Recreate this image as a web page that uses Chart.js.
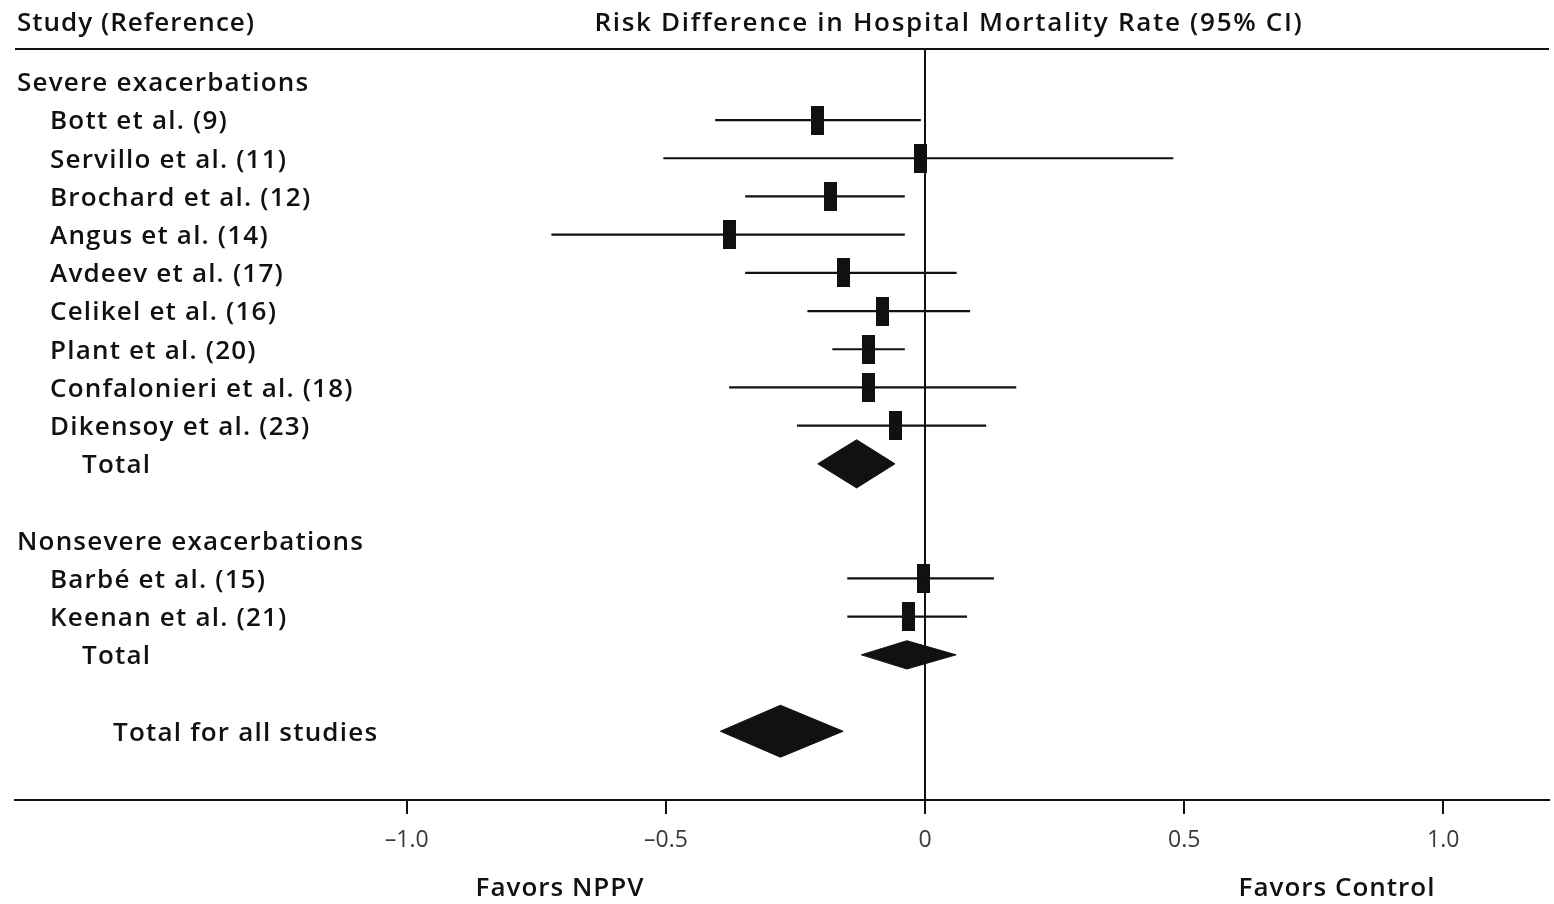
<!DOCTYPE html>
<html>
<head>
<meta charset="utf-8">
<script src="https://cdn.jsdelivr.net/npm/chart.js@4.4.1/dist/chart.umd.min.js"></script>
<style>
  html, body { margin: 0; padding: 0; background: #fff; }
  #wrap { width: 1554px; height: 904px; }
</style>
</head>
<body>
<div id="wrap"><canvas id="forest" width="1554" height="904"></canvas></div>
<script>
/* =========================================================
   DATA — risk difference in hospital mortality (95% CI)
   ========================================================= */
const rowLabels = [
    "Severe exacerbations",
    "Bott et al. (9)",
    "Servillo et al. (11)",
    "Brochard et al. (12)",
    "Angus et al. (14)",
    "Avdeev et al. (17)",
    "Celikel et al. (16)",
    "Plant et al. (20)",
    "Confalonieri et al. (18)",
    "Dikensoy et al. (23)",
    "Total",
    "",
    "Nonsevere exacerbations",
    "Barbé et al. (15)",
    "Keenan et al. (21)",
    "Total",
    "",
    "Total for all studies"
];
const rowKinds = [
    "group", "study", "study", "study", "study", "study", "study", "study", "study", "study", "total",
    "blank",
    "group", "study", "study", "total",
    "blank",
    "overall"
];
const estimate = [null, -0.207, -0.008, -0.183, -0.377, -0.157, -0.083, -0.109, -0.109, -0.057, -0.132,
                  null, null, -0.003, -0.032, -0.035, null, -0.279];
const ciLow    = [null, -0.405, -0.505, -0.347, -0.721, -0.347, -0.227, -0.179, -0.378, -0.247, -0.207,
                  null, null, -0.150, -0.150, -0.123, null, -0.395];
const ciHigh   = [null, -0.008,  0.479, -0.039, -0.039,  0.061,  0.087, -0.039,  0.176,  0.118, -0.058,
                  null, null,  0.133,  0.081,  0.060, null, -0.158];

const xTicks = [-1, -0.5, 0, 0.5, 1];
const xTickLabels = ["\u20131.0", "\u20130.5", "0", "0.5", "1.0"];

const headLeft = "Study (Reference)";
const headRight = "Risk Difference in Hospital Mortality Rate (95% CI)";
const favorLeft = "Favors NPPV";
const favorRight = "Favors Control";

/* =========================================================
   STYLE
   ========================================================= */
const INK = "#111";
const FONT = '"Open Sans", "Noto Sans", sans-serif';
const indentFor = { group: 0, study: 33, total: 65, overall: 96 };
const diamondHalf = { total: [0.63, 0.37], overall: [0.68] };

// small filled rectangle used as the study marker
function makeBox(w, h) {
    const c = document.createElement("canvas");
    c.width = w;
    c.height = h;
    const g = c.getContext("2d");
    g.fillStyle = INK;
    g.fillRect(0, 0, w, h);
    return c;
}
const boxMark = makeBox(13, 29);

/* =========================================================
   DATASETS
   ========================================================= */
const datasets = [];
const boxPoints = [];
let totalSeen = 0;

rowKinds.forEach((kind, i) => {
    if (estimate[i] === null) return;
    if (kind === "study") {
        datasets.push({
            data: [{ x: ciLow[i], y: i }, { x: ciHigh[i], y: i }],
            showLine: true,
            borderColor: INK,
            borderWidth: 2.2,
            pointRadius: 0
        });
        boxPoints.push({ x: estimate[i], y: i });
    } else {
        const h = kind === "total" ? diamondHalf.total[totalSeen++] : diamondHalf.overall[0];
        datasets.push({
            data: [
                { x: ciLow[i], y: i },
                { x: estimate[i], y: i - h },
                { x: ciHigh[i], y: i },
                { x: estimate[i], y: i + h },
                { x: ciLow[i], y: i }
            ],
            showLine: true,
            fill: "shape",
            borderColor: INK,
            backgroundColor: INK,
            borderWidth: 1,
            pointRadius: 0,
            tension: 0
        });
    }
});

datasets.push({
    data: boxPoints,
    pointStyle: boxMark,
    pointRadius: 4,
    showLine: false
});

/* =========================================================
   TEXT + RULES
   ========================================================= */
const forestText = {
    id: "forestText",
    afterDraw(chart) {
        const { ctx, chartArea, scales } = chart;
        ctx.save();
        ctx.strokeStyle = INK;
        ctx.lineWidth = 2;
        ctx.beginPath();
        ctx.moveTo(chartArea.left, chartArea.top);
        ctx.lineTo(chartArea.right, chartArea.top);
        ctx.stroke();

        ctx.fillStyle = INK;
        ctx.textBaseline = "middle";
        ctx.font = `600 26px ${FONT}`;
        ctx.letterSpacing = "1px";
        ctx.textAlign = "left";
        ctx.fillText(headLeft, 17, 24);

        ctx.letterSpacing = "1.7px";
        ctx.textAlign = "center";
        ctx.fillText(headRight, 949, 24);

        ctx.letterSpacing = "1.2px";
        ctx.textAlign = "left";
        rowLabels.forEach((lab, i) => {
            if (!lab) return;
            ctx.fillText(lab, 17 + indentFor[rowKinds[i]], scales.y.getPixelForValue(i) + 2);
        });

        ctx.letterSpacing = "1px";
        ctx.textAlign = "center";
        ctx.fillText(favorLeft, 560, 889);
        ctx.fillText(favorRight, 1337, 889);
        ctx.restore();
    }
};

/* =========================================================
   CHART
   ========================================================= */
new Chart(document.getElementById("forest"), {
    type: "scatter",
    data: { datasets },
    options: {
        responsive: false,
        animation: false,
        layout: { padding: { left: 15, right: 0, top: 49, bottom: 44 } },
        plugins: { legend: { display: false }, tooltip: { enabled: false } },
        scales: {
            x: {
                type: "linear",
                min: -1.756,
                max: 1.204,
                afterBuildTicks: (axis) => { axis.ticks = xTicks.map(v => ({ value: v })); },
                afterFit: (axis) => { axis.height = 60; },
                ticks: {
                    color: "#3a3a3a",
                    font: { family: FONT, size: 23 },
                    padding: 13,
                    callback: (v) => xTickLabels[xTicks.indexOf(v)]
                },
                grid: {
                    color: (c) => (c.tick && c.tick.value === 0 ? INK : "rgba(0,0,0,0)"),
                    lineWidth: 2,
                    tickColor: INK,
                    tickLength: 14,
                    tickWidth: 2
                },
                border: { display: true, color: INK, width: 2 }
            },
            y: {
                type: "linear",
                display: false,
                reverse: true,
                min: -0.86,
                max: 18.8
            }
        }
    },
    plugins: [forestText]
});
</script>
</body>
</html>
